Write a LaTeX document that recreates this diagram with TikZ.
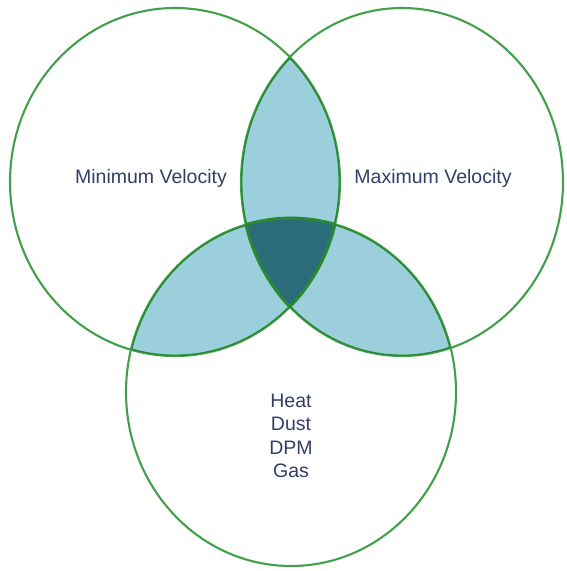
\documentclass[tikz,border=0pt]{standalone}
\usepackage{fontspec}
\setmainfont{Liberation Sans}
\definecolor{ring}{HTML}{42A04A}
\definecolor{ringdark}{HTML}{2A8834}
\definecolor{lensfill}{HTML}{9CCFDC}
\definecolor{corefill}{HTML}{2A6C7A}
\definecolor{labeltext}{HTML}{343D68}
\begin{document}
\begin{tikzpicture}[x=1pt,y=-1pt,
  ringline/.style={draw=ring,line width=2.1pt},
  innerline/.style={draw=ringdark,line width=2.8pt},
  setlabel/.style={font=\fontsize{19.5}{23.5}\selectfont,text=labeltext,align=center,inner sep=0pt}]
  \useasboundingbox (0,0) rectangle (567,571);
  % the three sets
  \def\setA{(175,182) ellipse [x radius=165, y radius=174]}
  \def\setB{(402,182) ellipse [x radius=161, y radius=174]}
  \def\setC{(291,392) ellipse [x radius=165, y radius=174]}
  % pairwise overlaps
  \begin{scope}\clip \setA; \fill[lensfill] \setB; \fill[lensfill] \setC; \end{scope}
  \begin{scope}\clip \setB; \fill[lensfill] \setC; \end{scope}
  % common core
  \begin{scope}\clip \setA; \clip \setB; \fill[corefill] \setC; \end{scope}
  % outlines
  \draw[ringline] \setA;
  \draw[ringline] \setB;
  \draw[ringline] \setC;
  % heavier outlines inside the shaded overlaps
  \begin{scope}\clip \setA; \clip \setB;
    \draw[innerline] \setA; \draw[innerline] \setB; \draw[innerline] \setC; \end{scope}
  \begin{scope}\clip \setA; \clip \setC;
    \draw[innerline] \setA; \draw[innerline] \setB; \draw[innerline] \setC; \end{scope}
  \begin{scope}\clip \setB; \clip \setC;
    \draw[innerline] \setA; \draw[innerline] \setB; \draw[innerline] \setC; \end{scope}
  % labels
  \node[setlabel] (minvel) at (151,178) {Minimum Velocity};
  \node[setlabel] (maxvel) at (433,178) {Maximum Velocity};
  \node[setlabel] (hazards) at (291,436) {Heat\\Dust\\DPM\\Gas};
\end{tikzpicture}
\end{document}
